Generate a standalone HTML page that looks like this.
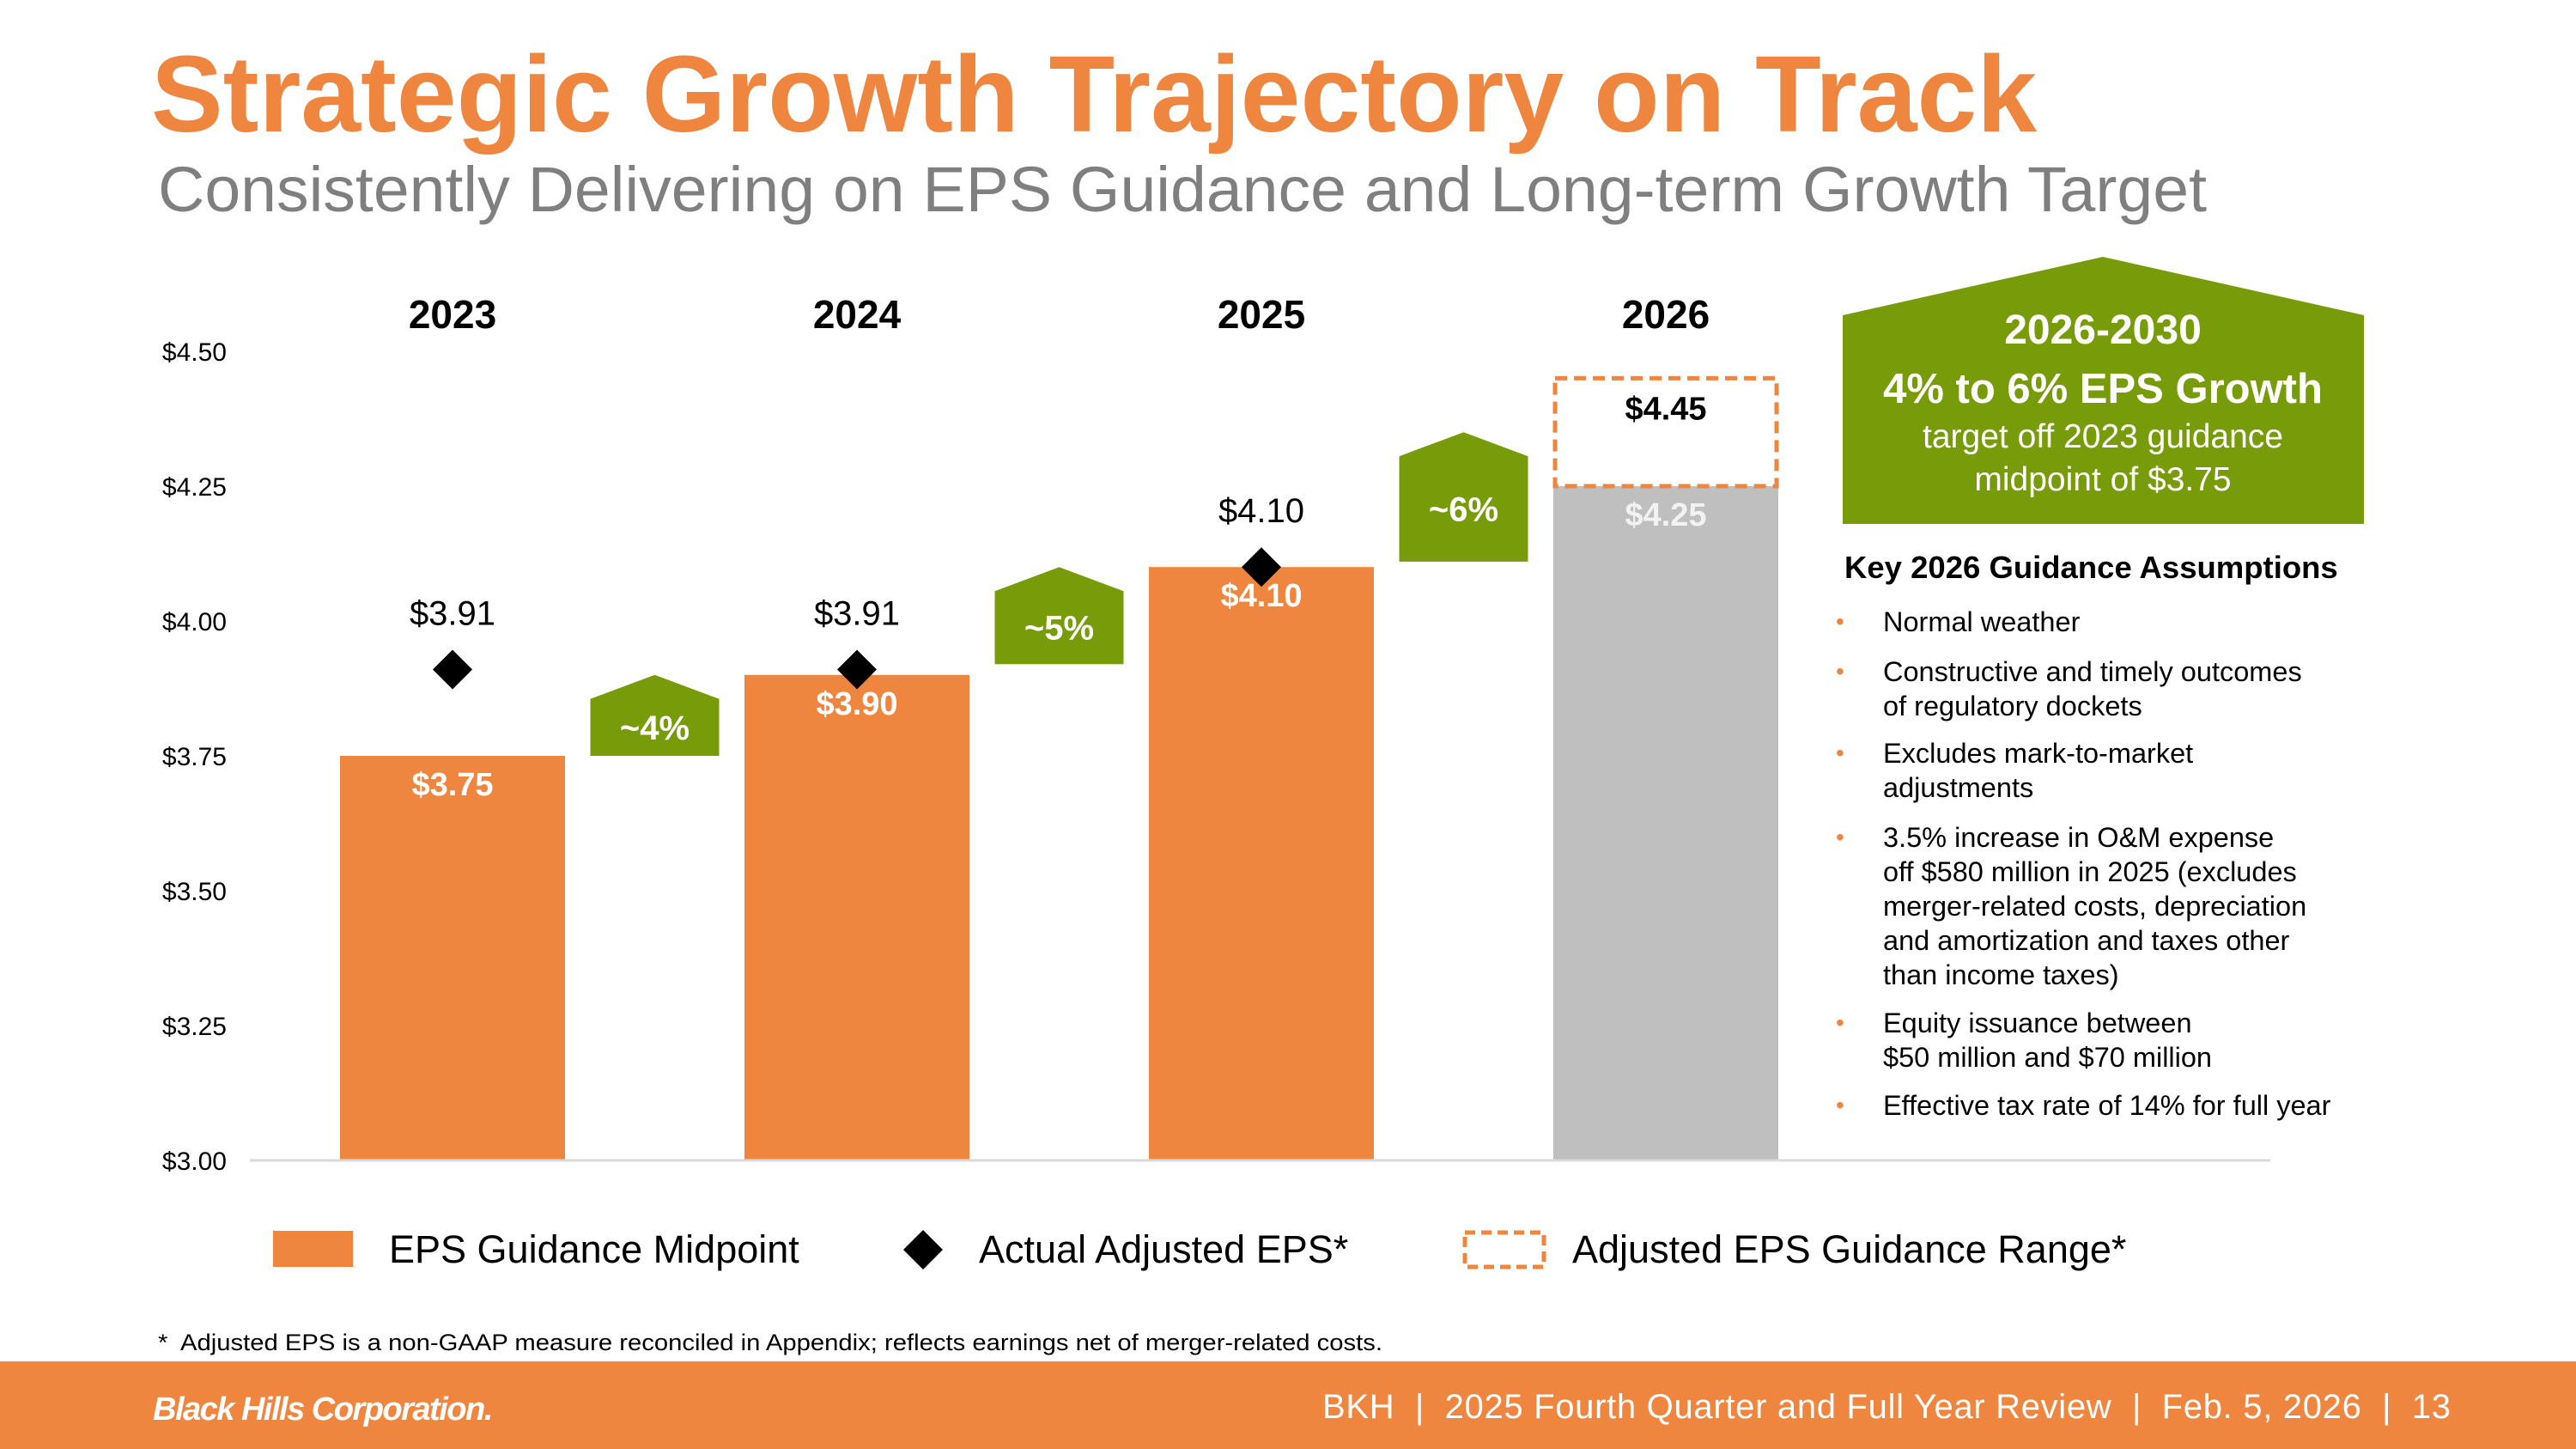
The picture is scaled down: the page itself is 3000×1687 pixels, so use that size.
<!DOCTYPE html>
<html><head><meta charset="utf-8"><style>
html,body{margin:0;padding:0;background:#fff;}
svg{display:block;font-family:"Liberation Sans",Arial,sans-serif;}
</style></head><body>
<svg id="s" width="3000" height="1687" viewBox="0 0 3000 1687" xmlns="http://www.w3.org/2000/svg">
<text x="176" y="153" font-size="126" font-weight="bold" fill="#EE8640" textLength="2196" lengthAdjust="spacingAndGlyphs">Strategic Growth Trajectory on Track</text>
<text x="184" y="246" font-size="74" fill="#7F7F7F" textLength="2386" lengthAdjust="spacingAndGlyphs">Consistently Delivering on EPS Guidance and Long-term Growth Target</text>
<g id="chart"></g>
<g>
<polygon points="2146,367 2449,299 2753,367 2753,610 2146,610" fill="#789B0A"/>
<text x="2449" y="400" font-size="48" font-weight="bold" fill="#fff" text-anchor="middle">2026-2030</text>
<text x="2449" y="469" font-size="49" font-weight="bold" fill="#fff" text-anchor="middle">4% to 6% EPS Growth</text>
<text x="2449" y="521" font-size="39" fill="#fff" text-anchor="middle">target off 2023 guidance</text>
<text x="2449" y="571" font-size="39" fill="#fff" text-anchor="middle">midpoint of $3.75</text>
</g>
<g font-size="32.5" fill="#000">
<text x="2148" y="673" font-size="36.5" font-weight="bold">Key 2026 Guidance Assumptions</text>
<g fill="#EE8640" font-size="28">
<text x="2138" y="733">•</text><text x="2138" y="791">•</text><text x="2138" y="886">•</text><text x="2138" y="984">•</text><text x="2138" y="1200">•</text><text x="2138" y="1296">•</text></g>
<text x="2193" y="735">Normal weather</text>
<text x="2193" y="793"><tspan x="2193">Constructive and timely outcomes</tspan><tspan x="2193" dy="40">of regulatory dockets</tspan></text>
<text x="2193" y="888"><tspan x="2193">Excludes mark-to-market</tspan><tspan x="2193" dy="40">adjustments</tspan></text>
<text x="2193" y="986"><tspan x="2193">3.5% increase in O&amp;M expense</tspan><tspan x="2193" dy="40">off $580 million in 2025 (excludes</tspan><tspan x="2193" dy="40">merger-related costs, depreciation</tspan><tspan x="2193" dy="40">and amortization and taxes other</tspan><tspan x="2193" dy="40">than income taxes)</tspan></text>
<text x="2193" y="1202"><tspan x="2193">Equity issuance between</tspan><tspan x="2193" dy="40">$50 million and $70 million</tspan></text>
<text x="2193" y="1298">Effective tax rate of 14% for full year</text>
</g>
<g font-size="45">
<rect x="318" y="1433" width="93" height="42" fill="#EE8640"/>
<text x="453" y="1470">EPS Guidance Midpoint</text>
<polygon points="1075,1432 1098,1455 1075,1478 1052,1455" fill="#000"/>
<text x="1140" y="1470">Actual Adjusted EPS*</text>
<rect x="1706" y="1435" width="92" height="40" fill="none" stroke="#EE8640" stroke-width="5" stroke-dasharray="12,7"/>
<text x="1831" y="1470">Adjusted EPS Guidance Range*</text>
</g>
<text x="184" y="1572" font-size="27" xml:space="preserve" textLength="1426" lengthAdjust="spacingAndGlyphs" font-family="'Liberation Sans Narrow','Liberation Sans',sans-serif">*  Adjusted EPS is a non-GAAP measure reconciled in Appendix; reflects earnings net of merger-related costs.</text>
<rect x="0" y="1585" width="3000" height="102" fill="#EE8640"/>
<text x="178" y="1653" font-size="38" font-weight="bold" font-style="italic" fill="#fff" font-family="'Liberation Sans Narrow','Liberation Sans',sans-serif" letter-spacing="-1.5">Black Hills Corporation.</text>
<text x="1540" y="1651" font-size="40" fill="#fff" xml:space="preserve" textLength="1314" lengthAdjust="spacing">BKH  |  2025 Fourth Quarter and Full Year Review  |  Feb. 5, 2026  |  13</text>
</svg>
<script>
const years=["2023","2024","2025","2026"];
const midpoints=[3.75,3.90,4.10,4.25];
const actuals=[3.91,3.91,4.10,null];
const rangeTop=[null,null,null,4.45];
const growthLabels=["~4%","~5%","~6%"];
const growthBase=[3.75,3.92,4.11];
const growthTop=[3.90,4.10,4.35];
const yTicks=[3.00,3.25,3.50,3.75,4.00,4.25,4.50];
const NS="http://www.w3.org/2000/svg";
const g=document.getElementById('chart');
const y=v=>1351-(v-3)*628;
const xc=i=>527+i*471;
const BW=262;
function mk(t,a,txt){const e=document.createElementNS(NS,t);for(const k in a)e.setAttribute(k,a[k]);if(txt!=null)e.textContent=txt;g.appendChild(e);return e;}
yTicks.forEach(v=>{const e=mk('text',{x:264,y:y(v)+11,'font-size':30,'text-anchor':'end',fill:'#000'},'$'+v.toFixed(2));

});
years.forEach((yr,i)=>{
const b=mk('rect',{x:xc(i)-BW/2,y:y(midpoints[i]),width:BW,height:y(3)-y(midpoints[i]),fill:i==3?'#BFBFBF':'#EE8640'});


const l=mk('text',{x:xc(i),y:y(midpoints[i])+46,'font-size':38,'font-weight':'bold','text-anchor':'middle',fill:i==3?'#F2F2F2':'#fff'},'$'+midpoints[i].toFixed(2));


const t=mk('text',{x:xc(i),y:382,'font-size':46,'font-weight':'bold','text-anchor':'middle',fill:'#000'},yr);


if(actuals[i]!=null){const cy=y(actuals[i]),cx=xc(i);
const d=mk('polygon',{points:`${cx},${cy-23} ${cx+23},${cy} ${cx},${cy+23} ${cx-23},${cy}`,fill:'#000'});


const a=mk('text',{x:cx,y:cy-52,'font-size':40,'text-anchor':'middle',fill:'#000'},'$'+actuals[i].toFixed(2));

}
if(rangeTop[i]!=null){
const r=mk('rect',{x:xc(i)-BW/2+2,y:y(rangeTop[i]),width:BW-4,height:y(midpoints[i])-y(rangeTop[i]),fill:'none',stroke:'#EE8640','stroke-width':5,'stroke-dasharray':'14,8'});


const rl=mk('text',{x:xc(i),y:y(rangeTop[i])+48,'font-size':38,'font-weight':'bold','text-anchor':'middle',fill:'#000'},'$'+rangeTop[i].toFixed(2));

}
});
growthLabels.forEach((lab,i)=>{
const cx=(xc(i)+xc(i+1))/2,w=150,yb=y(growthBase[i]),yt=y(growthTop[i]),ys=yt+28;
const p=mk('polygon',{points:`${cx-w/2},${ys} ${cx},${yt} ${cx+w/2},${ys} ${cx+w/2},${yb} ${cx-w/2},${yb}`,fill:'#789B0A'});


const t=mk('text',{x:cx,y:(ys+yb)/2+14,'font-size':40,'font-weight':'bold','text-anchor':'middle',fill:'#fff'},lab);

});
const ax=mk('line',{x1:291,x2:2644,y1:y(3),y2:y(3),stroke:'#D9D9D9','stroke-width':3});


</script>
</body></html>
